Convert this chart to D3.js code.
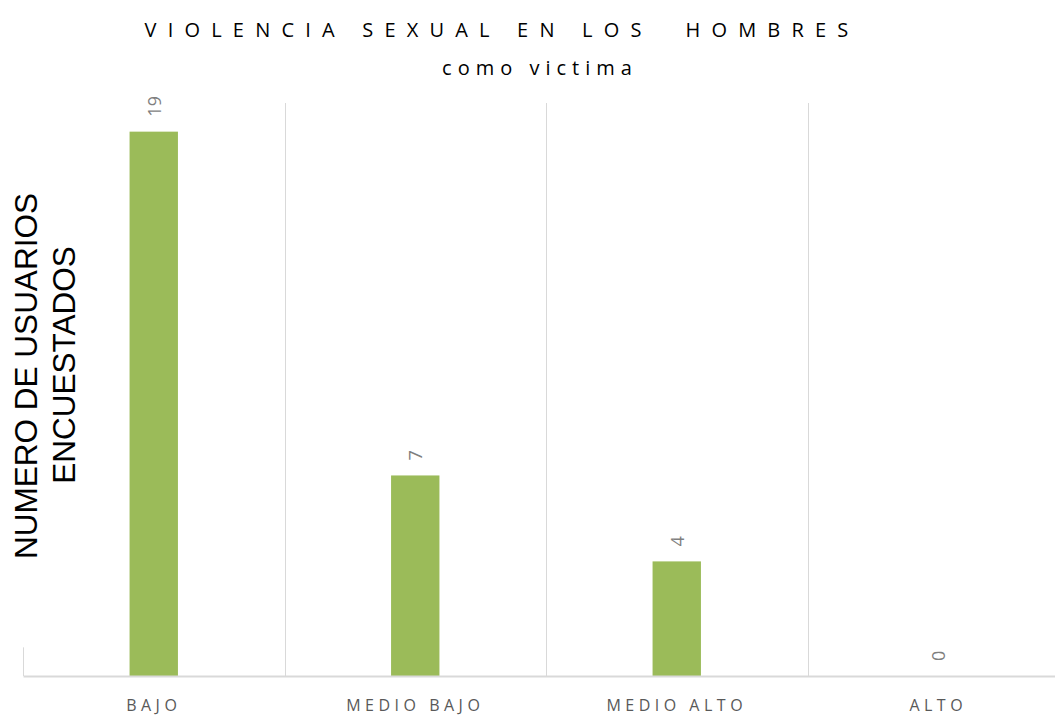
<!DOCTYPE html>
<html>
<head>
<meta charset="utf-8">
<script src="https://cdn.jsdelivr.net/npm/d3@7"></script>
<style>
  body { margin: 0; background: #fff; }
</style>
</head>
<body>
<div id="chart"></div>
<script>
const categories = ["BAJO", "MEDIO BAJO", "MEDIO ALTO", "ALTO"];
const values = [19, 7, 4, 0];
const titleLines = ["VIOLENCIA SEXUAL EN LOS  HOMBRES", "como victima"];
const yTitleLines = ["NUMERO DE USUARIOS", "ENCUESTADOS"];

const W = 1055, H = 715;
const margin = { top: 103, right: -14, bottom: 39, left: 23 };
const width = W - margin.left - margin.right,
  height = H - margin.top - margin.bottom;

const svg = d3.select("#chart")
  .append("svg")
  .attr("width", W)
  .attr("height", H);

const g = svg.append("g")
  .attr("transform", "translate(" + margin.left + "," + margin.top + ")");

const x = d3.scaleBand().domain(categories).range([0, width]).padding(0);
const y = d3.scaleLinear().domain([0, 20]).range([height, 0]);

// Vertical gridlines between categories
g.append("g")
  .selectAll("line")
  .data(categories.slice(1))
  .enter()
  .append("line")
  .attr("x1", d => Math.round(x(d)) + 0.5)
  .attr("x2", d => Math.round(x(d)) + 0.5)
  .attr("y1", 0)
  .attr("y2", height)
  .style("stroke", "#d9d9d9")
  .style("stroke-width", 1);

// Short left edge line
g.append("line")
  .attr("x1", 0.5).attr("x2", 0.5)
  .attr("y1", y(1)).attr("y2", height)
  .style("stroke", "#d9d9d9");

// Bars
const barW = x.bandwidth() * 0.185;
g.append("g")
  .selectAll("rect")
  .data(values)
  .enter()
  .append("rect")
  .attr("x", (d, i) => x(categories[i]) + x.bandwidth() / 2 - barW / 2)
  .attr("y", d => y(d))
  .attr("width", barW)
  .attr("height", d => height - y(d))
  .style("fill", "#9bbb59");

// X axis
const xAxis = g.append("g")
  .attr("transform", "translate(0," + height + ")")
  .call(d3.axisBottom(x).tickSize(0).tickPadding(24));
xAxis.select(".domain").style("stroke", "#d9d9d9").style("stroke-width", 2);
xAxis.selectAll("text")
  .style("font-family", "'Open Sans', sans-serif")
  .style("font-size", "16px")
  .style("letter-spacing", "4.5px")
  .style("fill", "#595959");

// Value labels, rotated
g.append("g")
  .selectAll("text")
  .data(values)
  .enter()
  .append("text")
  .attr("transform", (d, i) => "translate(" + (x(categories[i]) + x.bandwidth() / 2 + 7) + "," + (y(d) - 15) + ") rotate(-90)")
  .attr("text-anchor", "start")
  .style("font-family", "'Open Sans', sans-serif")
  .style("font-size", "18px")
  .style("fill", "#7f7f7f")
  .text(d => d);

// Title
svg.append("g")
  .selectAll("text")
  .data(titleLines)
  .enter()
  .append("text")
  .attr("x", (d, i) => i === 0 ? 502 : 540)
  .attr("y", (d, i) => 37 + i * 38)
  .attr("text-anchor", "middle")
  .style("white-space", "pre")
  .style("font-family", "'Open Sans', sans-serif")
  .style("font-size", "20px")
  .style("letter-spacing", (d, i) => i === 0 ? "11.2px" : "6px")
  .style("fill", "#000")
  .text(d => d);

// Y axis title
svg.append("g")
  .selectAll("text")
  .data(yTitleLines)
  .enter()
  .append("text")
  .attr("transform", (d, i) => "translate(" + (37 + i * 38) + "," + (i === 0 ? 376 : 365) + ") rotate(-90)")
  .attr("text-anchor", "middle")
  .style("font-family", "'Liberation Sans', Arial, sans-serif")
  .style("font-size", "31.5px")
  .style("fill", "#000")
  .text(d => d);
</script>
</body>
</html>
